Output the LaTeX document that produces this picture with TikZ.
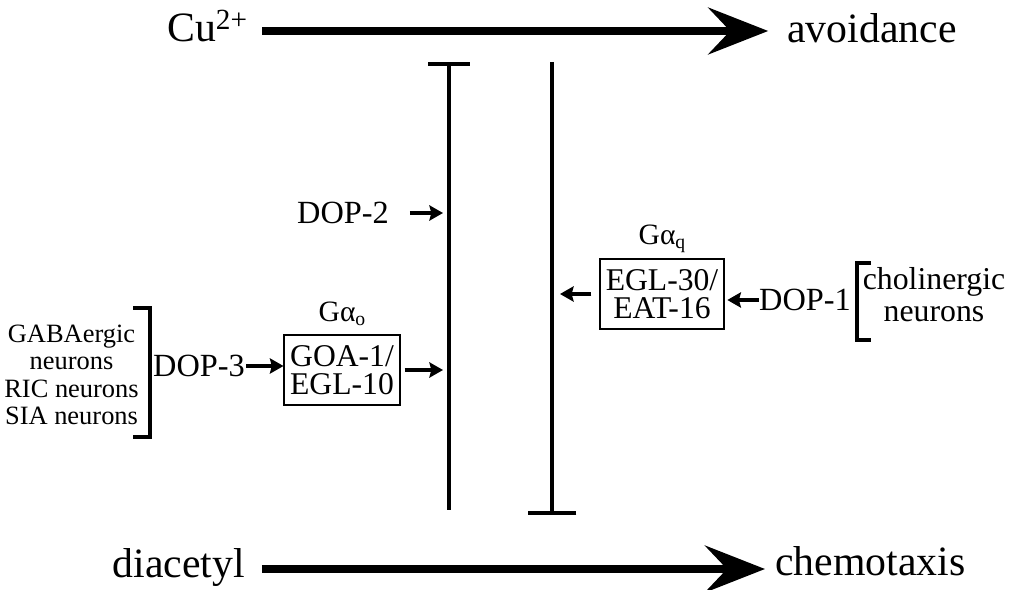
\documentclass[tikz,border=0pt]{standalone}
\usepackage{fontspec}
\setmainfont{Liberation Serif}
\usetikzlibrary{arrows.meta,positioning,calc}

% 下標小字 (Gα 的 o / q)
\newcommand{\gsub}[1]{\raisebox{-0.15em}{\fontsize{14}{14}\selectfont #1}}

\begin{document}
\begin{tikzpicture}[
    x=0.025cm, y=-0.025cm,
    % 全域樣式設定
    big label/.style={font=\fontsize{29.7}{32}\selectfont, inner sep=0pt}, % 上下兩行的大字
    mid label/.style={font=\fontsize{23}{23}\selectfont, inner sep=0pt}, % DOP 受體文字
    cell label/.style={font=\fontsize{18.8}{19.6}\selectfont, inner sep=0pt, align=center}, % 左側神經元列表
    g label/.style={font=\fontsize{21}{21}\selectfont, inner sep=0pt}, % G 蛋白標題
    gbox/.style={draw, line width=0.05cm, inner sep=0pt, align=center,
        font=\fontsize{22.5}{20}\selectfont}, % 方框樣式
    % 粗的主箭頭與細的活化箭頭
    main arrow/.style={line width=0.2cm, -{Stealth[length=1.5cm, width=1.17cm, inset=0.55cm]}},
    act arrow/.style={line width=0.1cm, -{Stealth[length=0.34cm, width=0.38cm, inset=0.05cm]}},
    inhib/.style={line width=0.1cm}, % 抑制線
    bracket/.style={line width=0.11cm}
]
    \useasboundingbox (0,0) rectangle (1017,590);

    % --- 1. 上下兩條主箭頭 ---
    \coordinate (toprow) at (0,31);
    \coordinate (botrow) at (0,569);
    \node[big label, anchor=base east] (cu) at (248,42) {Cu\textsuperscript{2+}};
    \node[big label, anchor=base west] (avoid) at (787,43) {avoidance};
    \draw[main arrow, shorten <=0.35cm, shorten >=0.47cm] (cu.east |- toprow) -- (avoid.west |- toprow);

    \node[big label, anchor=base east] (diacetyl) at (245,577) {diacetyl};
    \node[big label, anchor=base west] (chemo) at (775,575) {chemotaxis};
    \draw[main arrow, shorten <=0.42cm, shorten >=0.25cm] (diacetyl.east |- botrow) -- (chemo.west |- botrow);

    % --- 2. 兩條垂直抑制線 ---
    \coordinate (inhA top) at (449,62);
    \coordinate (inhA bot) at (449,510);
    \coordinate (inhB top) at (552,62);
    \coordinate (inhB bot) at (552,515);
    \draw[inhib, {Bar[width=1.05cm]}-] (inhA top) -- (inhA bot);
    \draw[inhib, -{Bar[width=1.22cm]}] (inhB top) -- (inhB bot);

    % --- 3. 左側 (DOP-2, DOP-3 與 Gαo) ---
    \node[mid label] (dop2) at (343,213) {DOP-2};
    \draw[act arrow, shorten <=0.52cm, shorten >=0.15cm] (dop2.east) -- (dop2.east -| inhA top);

    \node[gbox, minimum width=2.875cm, minimum height=1.75cm] (goa) at (342,370) {GOA-1/\\EGL-10};
    \node[g label, above=0.2cm of goa] (gao) {Gα\gsub{o}};
    \node[mid label] (dop3) at (199,366) {DOP-3};
    \draw[act arrow, shorten <=0.03cm] (dop3.east) -- (dop3.east -| goa.west);
    \draw[act arrow, shorten <=0.1cm, shorten >=0.15cm] (goa.east) -- (goa.east -| inhA top);

    % 神經元列表與右括號
    \node[cell label, anchor=east] (srcL) at (139,375) {GABAergic\\neurons\\RIC neurons\\SIA neurons};
    \draw[bracket] (133,308) -| (150,437) -- (133,437);

    % --- 4. 右側 (DOP-1 與 Gαq) ---
    \node[gbox, minimum width=3.075cm, minimum height=1.725cm] (eat) at (662,294) {EGL-30/\\EAT-16};
    \node[g label, above=0.13cm of eat] (gaq) {Gα\gsub{q}};
    \node[mid label] (dop1) at (805,300) {DOP-1};
    \draw[act arrow, shorten >=0.07cm] (dop1.west) -- (dop1.west -| eat.east);
    \draw[act arrow, shorten <=0.2cm, shorten >=0.2cm] (eat.west) -- (eat.west -| inhB top);

    % 神經元列表與左括號
    \node[mid label, align=center, font=\fontsize{22.6}{22.8}\selectfont] (srcR) at (934,295) {cholinergic\\neurons};
    \draw[bracket] (871,263) -| (857,340) -- (871,340);

\end{tikzpicture}
\end{document}
